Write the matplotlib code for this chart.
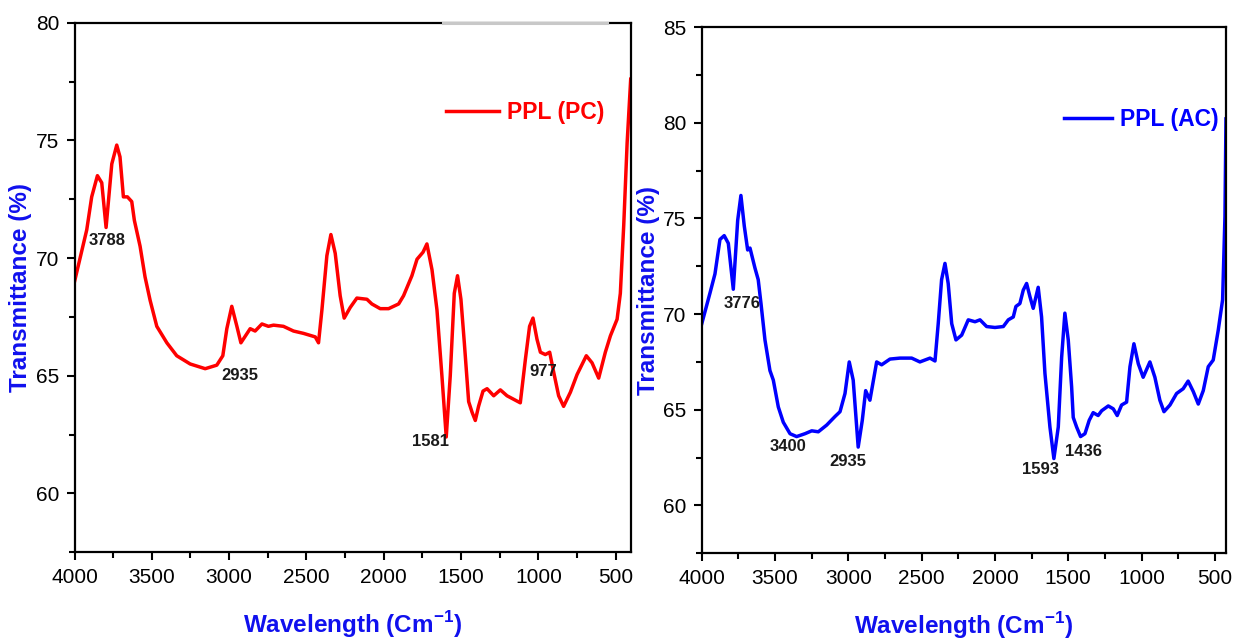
import matplotlib as mpl
mpl.use("Agg")
import matplotlib.pyplot as plt
from matplotlib.ticker import MultipleLocator

# --- data ---
pc_wave = [4000, 3921, 3889, 3852, 3824, 3796, 3759, 3727, 3706, 3684, 3658, 3630, 3613,
           3576, 3544, 3511, 3468, 3403, 3339, 3252, 3155, 3080, 3041, 3015, 2983, 2950,
           2924, 2864, 2832, 2788, 2746, 2713, 2649, 2584, 2519, 2443, 2422, 2400, 2368,
           2342, 2314, 2282, 2256, 2217, 2174, 2109, 2077, 2023, 1969, 1904, 1872, 1818,
           1785, 1746, 1721, 1688, 1656, 1624, 1596, 1570, 1544, 1523, 1501, 1479, 1451,
           1429, 1408, 1387, 1358, 1332, 1289, 1246, 1203, 1160, 1117, 1084, 1057, 1035,
           1009, 987, 955, 927, 901, 869, 837, 793, 750, 690, 653, 610, 567, 534, 491,
           470, 448, 426, 403]
pc_trans = [69.0, 71.2, 72.6, 73.5, 73.2, 71.3, 74.0, 74.8, 74.3, 72.6, 72.6, 72.4, 71.6,
            70.5, 69.2, 68.2, 67.1, 66.4, 65.85, 65.5, 65.3, 65.45, 65.85, 67.0, 67.95,
            67.1, 66.4, 67.0, 66.9, 67.2, 67.1, 67.15, 67.1, 66.9, 66.8, 66.65, 66.4, 67.8,
            70.1, 71.0, 70.2, 68.4, 67.45, 67.9, 68.3, 68.25, 68.05, 67.85, 67.85, 68.05,
            68.4, 69.25, 69.95, 70.25, 70.6, 69.5, 67.8, 65.0, 62.4, 65.0, 68.5, 69.25,
            68.25, 66.4, 63.9, 63.45, 63.1, 63.7, 64.35, 64.45, 64.15, 64.4, 64.15, 64.0,
            63.85, 65.7, 67.1, 67.45, 66.55, 66.0, 65.9, 66.0, 65.15, 64.15, 63.7, 64.3,
            65.05, 65.85, 65.55, 64.9, 66.0, 66.7, 67.4, 68.5, 71.4, 74.9, 77.6]

ac_wave = [4000, 3944, 3910, 3876, 3847, 3819, 3785, 3755, 3733, 3710, 3687, 3671, 3637,
           3615, 3596, 3569, 3535, 3512, 3478, 3444, 3398, 3353, 3296, 3250, 3205, 3148,
           3091, 3057, 3023, 2994, 2967, 2933, 2905, 2882, 2853, 2807, 2773, 2716, 2648,
           2568, 2512, 2443, 2409, 2387, 2364, 2341, 2319, 2295, 2266, 2227, 2182, 2136,
           2102, 2057, 2000, 1943, 1909, 1875, 1857, 1830, 1807, 1784, 1761, 1739, 1705,
           1682, 1659, 1625, 1598, 1568, 1545, 1523, 1500, 1477, 1466, 1443, 1416, 1386,
           1357, 1330, 1296, 1272, 1227, 1193, 1166, 1136, 1102, 1079, 1052, 1022, 989,
           943, 909, 875, 847, 806, 761, 716, 682, 647, 613, 579, 545, 511, 477, 447,
           431, 424]
ac_trans = [69.5, 71.1, 72.1, 73.9, 74.1, 73.7, 71.3, 74.9, 76.2, 74.6, 73.35, 73.45, 72.4,
            71.8, 70.55, 68.65, 67.05, 66.55, 65.15, 64.35, 63.75, 63.6, 63.75, 63.9, 63.85,
            64.2, 64.65, 64.9, 65.85, 67.5, 66.55, 63.05, 64.45, 66.0, 65.5, 67.5, 67.35,
            67.65, 67.7, 67.7, 67.5, 67.7, 67.55, 69.5, 71.8, 72.65, 71.6, 69.5, 68.65,
            68.9, 69.7, 69.6, 69.7, 69.35, 69.3, 69.35, 69.7, 69.85, 70.4, 70.55, 71.25,
            71.6, 70.9, 70.3, 71.4, 69.85, 66.9, 64.1, 62.45, 64.1, 67.75, 70.05, 68.65,
            66.2, 64.6, 64.1, 63.6, 63.75, 64.45, 64.85, 64.7, 64.95, 65.2, 65.05, 64.7,
            65.25, 65.4, 67.25, 68.45, 67.4, 66.7, 67.5, 66.7, 65.5, 64.9, 65.25, 65.85,
            66.1, 66.5, 65.95, 65.3, 66.0, 67.25, 67.6, 69.15, 70.75, 75.1, 80.2]

pc_peaks = ["3788", "2935", "1581", "977"]
pc_peak_x = [3789, 2933, 1699, 968]
pc_peak_y = [70.76, 65.03, 62.19, 65.2]

ac_peaks = ["3776", "3400", "2935", "1593", "1436"]
ac_peak_x = [3728, 3410, 3005, 1688, 1393]
ac_peak_y = [70.56, 63.1, 62.28, 61.88, 62.8]

plt.rcParams["font.family"] = ["Liberation Sans", "DejaVu Sans"]
plt.rcParams["mathtext.fontset"] = "custom"
plt.rcParams["mathtext.rm"] = "Liberation Sans"
plt.rcParams["mathtext.bf"] = "Liberation Sans:bold"

fig = plt.figure(figsize=(12.34, 6.39), dpi=100)
ax1 = fig.add_axes([0.0604, 0.1357, 0.4507, 0.8288])
ax2 = fig.add_axes([0.5687, 0.1341, 0.4248, 0.8236])


def style(ax, xmax, ymax, ylab_x):
    ax.set_xlim(4000, xmax)
    ax.set_ylim(57.5, ymax)
    ax.xaxis.set_major_locator(MultipleLocator(500))
    ax.xaxis.set_minor_locator(MultipleLocator(250))
    ax.yaxis.set_major_locator(MultipleLocator(5))
    ax.yaxis.set_minor_locator(MultipleLocator(2.5))
    ax.tick_params(which="major", direction="out", length=6, width=1.5,
                   top=False, right=False, labelsize=15, pad=5)
    ax.tick_params(which="minor", direction="out", length=4, width=1.5,
                   top=False, right=False)
    for sp in ax.spines.values():
        sp.set_linewidth(1.6)
    ax.set_xlabel("Wavelength (Cm$^{\\mathbf{-1}}$)", color="#1010ee",
                  fontsize=17.5, fontweight="bold")
    ax.set_ylabel("Transmittance (%)", color="#1010ee", fontsize=17.5, fontweight="bold")
    ax.xaxis.set_label_coords(0.5, -0.108)
    ax.yaxis.set_label_coords(ylab_x, 0.5)


ax1.plot(pc_wave, pc_trans, color="#ff0000", lw=2.5, label="PPL (PC)")
style(ax1, 403, 80, -0.076)
ax1.axhline(80, xmin=0.663, xmax=0.957, color="#c8c8c8", lw=2.2, clip_on=False, zorder=5)
for t, x, y in zip(pc_peaks, pc_peak_x, pc_peak_y):
    ax1.text(x, y, t, ha="center", va="center", fontsize=12, fontweight="bold",
             color="#1a1a1a")
ax1.legend(loc="center right", bbox_to_anchor=(0.952, 0.831), frameon=False,
           borderpad=0, borderaxespad=0, handlelength=2.3, handletextpad=0.35,
           labelcolor="linecolor", prop={"weight": "bold", "size": 16.5})

ax2.plot(ac_wave, ac_trans, color="#0000ff", lw=2.5, label="PPL (AC)")
style(ax2, 424, 85, -0.08)
for t, x, y in zip(ac_peaks, ac_peak_x, ac_peak_y):
    ax2.text(x, y, t, ha="center", va="center", fontsize=12, fontweight="bold",
             color="#1a1a1a")
ax2.legend(loc="center right", bbox_to_anchor=(0.986, 0.825), frameon=False,
           borderpad=0, borderaxespad=0, handlelength=2.1, handletextpad=0.35,
           labelcolor="linecolor", prop={"weight": "bold", "size": 16.5})

fig.savefig("out.png", dpi=100)
